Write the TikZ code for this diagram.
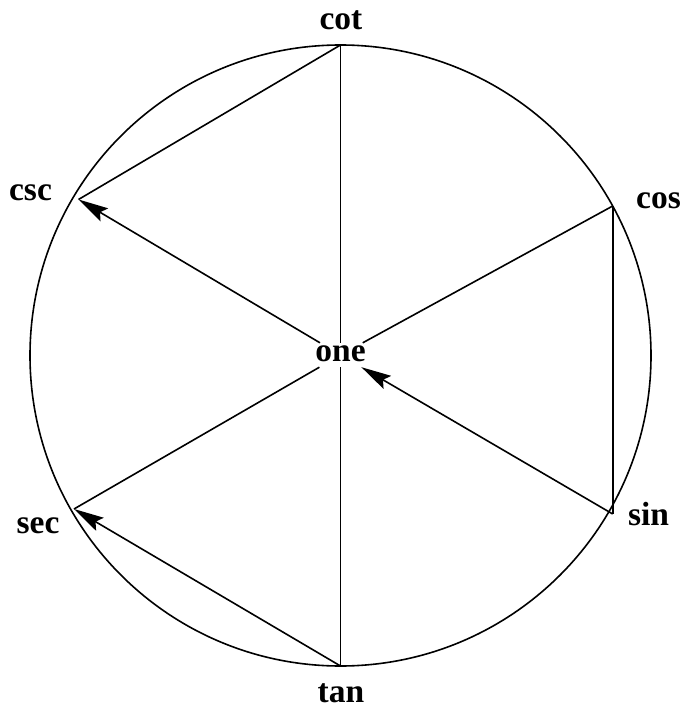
\documentclass[tikz,border=0pt]{standalone}
\usepackage{fontspec}
\setmainfont{Liberation Serif}
\usetikzlibrary{arrows.meta}
\begin{document}
\begin{tikzpicture}[x=1pt,y=-1pt,
  edge/.style={line width=1.6pt},
  arr/.style={edge,-{Stealth[length=30pt,width=15pt,inset=5pt]}},
  lbl/.style={anchor=base,inner sep=0pt,font=\fontsize{33.5}{40}\selectfont\bfseries},
  hub/.style={inner xsep=0.75pt,inner ysep=0pt,text height=18.7pt,text depth=5.3pt,
    font=\fontsize{33.5}{40}\selectfont\bfseries}]
\useasboundingbox (0,0) rectangle (682,708);
% outer circle
\draw[edge] (340.5,355.5) circle [radius=310.5pt];
% points on the circle
\coordinate (cot) at (340.5,45);
\coordinate (cos) at (612.7,206);
\coordinate (sin) at (612.7,514);
\coordinate (tan) at (340.5,666);
\coordinate (sec) at (74,509);
\coordinate (csc) at (78.5,199.5);
% centre node
\node[hub] (one) at (340.5,355) {one};
% labels
\node[lbl] (cotlbl) at (341,30) {cot};
\node[lbl] (csclbl) at (30.5,201) {csc};
\node[lbl] (coslbl) at (658.5,208.5) {cos};
\node[lbl] (sinlbl) at (648.5,525) {sin};
\node[lbl] (seclbl) at (38,533.5) {sec};
\node[lbl] (tanlbl) at (341,702) {tan};
% connectors
\draw[edge] (cot) -- (one);
\draw[edge] (one) -- (tan);
\draw[edge] (cot) -- (csc);
\draw[arr] (one) -- (csc);
\draw[edge] (one) -- (cos);
\draw[edge] (cos) -- (sin);
\draw[arr] (sin) -- (one);
\draw[edge] (one) -- (sec);
\draw[arr] (tan) -- (sec);
\end{tikzpicture}
\end{document}
